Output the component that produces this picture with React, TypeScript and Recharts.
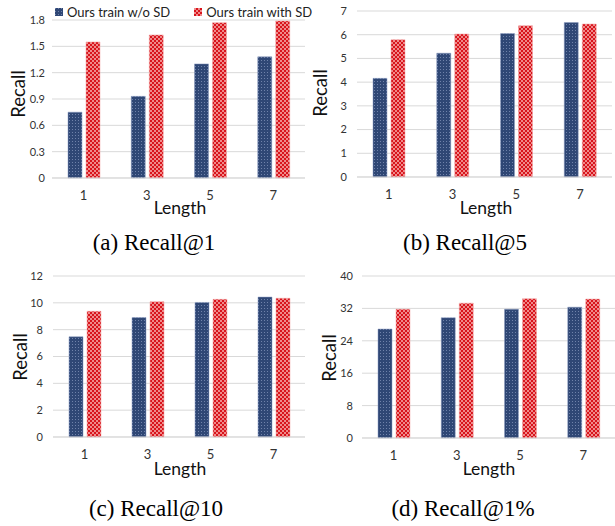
import { BarChart, Bar, XAxis, YAxis, CartesianGrid, Legend } from 'recharts';

const lengths = ['1', '3', '5', '7'];

const r1Without = [0.75, 0.93, 1.3, 1.38];
const r1With = [1.55, 1.63, 1.77, 1.79];
const r1Ticks = [0, 0.3, 0.6, 0.9, 1.2, 1.5, 1.8];

const r5Without = [4.16, 5.22, 6.05, 6.51];
const r5With = [5.79, 6.03, 6.38, 6.45];
const r5Ticks = [0, 1, 2, 3, 4, 5, 6, 7];

const r10Without = [7.47, 8.9, 10.03, 10.43];
const r10With = [9.37, 10.08, 10.26, 10.34];
const r10Ticks = [0, 2, 4, 6, 8, 10, 12];

const r1pWithout = [26.9, 29.7, 31.8, 32.3];
const r1pWith = [31.8, 33.3, 34.4, 34.3];
const r1pTicks = [0, 8, 16, 24, 32, 40];

const seriesNames = ['Ours train w/o SD', 'Ours train with SD'];

const SANS = 'Lato, "Open Sans", sans-serif';

const Patterns = ({ id }: { id: string }) => (
  <defs>
    <pattern id={`blue-${id}`} width="3" height="3" patternUnits="userSpaceOnUse">
      <rect width="3" height="3" fill="#2f4775" />
      <rect x="0" y="0" width="1" height="1" fill="#6f82aa" />
    </pattern>
    <pattern id={`red-${id}`} width="4" height="4" patternUnits="userSpaceOnUse">
      <rect width="4" height="4" fill="#d8141c" />
      <rect x="0" y="0" width="2" height="2" fill="#ef8a8a" />
      <rect x="2" y="2" width="2" height="2" fill="#ef8a8a" />
    </pattern>
  </defs>
);

const LegendContent = () => (
  <div style={{ display: 'flex', alignItems: 'center', fontFamily: SANS, fontSize: 13, color: '#222', whiteSpace: 'nowrap' }}>
    {seriesNames.map((n, i) => (
      <div key={n} style={{ display: 'flex', alignItems: 'center', marginRight: 24 }}>
        <svg width="8" height="8" style={{ marginRight: 4 }}>
          <rect width="8" height="8" fill={i === 0 ? 'url(#blue-a)' : 'url(#red-a)'} />
        </svg>
        <span>{n}</span>
      </div>
    ))}
  </div>
);

type PanelProps = {
  id: string;
  left: number;
  top: number;
  width: number;
  height: number;
  plot: { x0: number; x1: number; y0: number; y1: number };
  without: number[];
  withSd: number[];
  ticks: number[];
  tickGap: number;
  legend?: boolean;
};

const Panel = ({ id, left, top, width, height, plot, without, withSd, ticks, tickGap, legend }: PanelProps) => {
  const yw = 40;
  const xh = 30;
  const margin = {
    top: plot.y0 - top,
    left: plot.x0 - left - yw,
    right: left + width - plot.x1,
    bottom: top + height - plot.y1 - xh,
  };
  const data = lengths.map((l, i) => ({ length: l, without: without[i], withSd: withSd[i] }));
  return (
    <div style={{ position: 'absolute', left, top }}>
      <BarChart width={width} height={height} data={data} margin={margin} barSize={14} barGap={4}>
        <Patterns id={id} />
        <CartesianGrid vertical={false} stroke="#d9d9d9" />
        <XAxis
          dataKey="length"
          height={xh}
          tickSize={0}
          tickMargin={13}
          axisLine={{ stroke: '#d9d9d9' }}
          tick={{ fontSize: 13, fill: '#333', fontFamily: SANS }}
        />
        <YAxis
          width={yw}
          domain={[ticks[0], ticks[ticks.length - 1]]}
          ticks={ticks}
          tickSize={0}
          tickMargin={tickGap}
          axisLine={false}
          tick={{ fontSize: 11, fill: '#333', fontFamily: SANS }}
        />
        {legend && (
          <Legend
            verticalAlign="middle"
            align="center"
            content={<LegendContent />}
            wrapperStyle={{ top: 4, left: 55, width: 300 }}
          />
        )}
        <Bar dataKey="without" name={seriesNames[0]} fill={`url(#blue-${id})`} stroke="#8a9bc0" strokeWidth={0.5} isAnimationActive={false} />
        <Bar dataKey="withSd" name={seriesNames[1]} fill={`url(#red-${id})`} stroke="#f0a0a0" strokeWidth={0.5} isAnimationActive={false} />
      </BarChart>
    </div>
  );
};

const Txt = ({ x, y, text, size, serif, rotate }: { x: number; y: number; text: string; size: number; serif?: boolean; rotate?: boolean }) => (
  <div
    style={{
      position: 'absolute',
      left: x,
      top: y,
      transform: `translate(-50%, -50%)${rotate ? ' rotate(-90deg)' : ''}`,
      fontFamily: serif ? '"Liberation Serif", "Times New Roman", serif' : SANS,
      fontSize: size,
      whiteSpace: 'nowrap',
      color: serif ? '#000' : '#111',
      lineHeight: 1,
    }}
  >
    {text}
  </div>
);

export default function App() {
  return (
    <div style={{ position: 'absolute', left: 0, top: 0, width: 615, height: 526, background: '#fff' }}>
      <Panel id="a" left={0} top={0} width={310} height={215} plot={{ x0: 52, x1: 305, y0: 20, y1: 178 }} without={r1Without} withSd={r1With} ticks={r1Ticks} tickGap={7} legend />
      <Panel id="b" left={305} top={0} width={310} height={215} plot={{ x0: 357, x1: 612, y0: 11, y1: 177 }} without={r5Without} withSd={r5With} ticks={r5Ticks} tickGap={10} />
      <Panel id="c" left={0} top={260} width={310} height={210} plot={{ x0: 53, x1: 305, y0: 276, y1: 437 }} without={r10Without} withSd={r10With} ticks={r10Ticks} tickGap={10} />
      <Panel id="d" left={305} top={260} width={310} height={210} plot={{ x0: 362, x1: 615, y0: 276, y1: 438 }} without={r1pWithout} withSd={r1pWith} ticks={r1pTicks} tickGap={9} />

      <Txt x={18} y={94} text="Recall" size={18.5} rotate />
      <Txt x={320} y={93} text="Recall" size={18.5} rotate />
      <Txt x={20} y={357} text="Recall" size={18.5} rotate />
      <Txt x={329} y={358} text="Recall" size={18.5} rotate />

      <Txt x={180} y={208} text="Length" size={17.5} />
      <Txt x={486} y={208} text="Length" size={17.5} />
      <Txt x={180} y={469} text="Length" size={17.5} />
      <Txt x={489} y={469} text="Length" size={17.5} />

      <Txt x={154} y={242} text="(a) Recall@1" size={23} serif />
      <Txt x={465} y={242} text="(b) Recall@5" size={23} serif />
      <Txt x={156} y={508} text="(c) Recall@10" size={23} serif />
      <Txt x={463} y={508} text="(d) Recall@1%" size={23} serif />
    </div>
  );
}
